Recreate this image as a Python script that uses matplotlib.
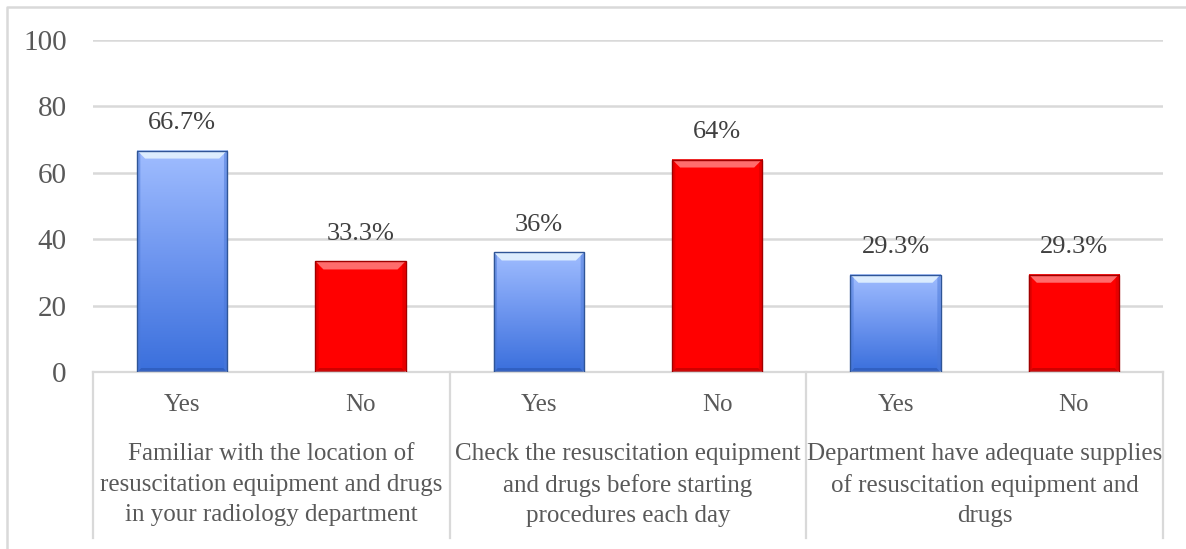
import matplotlib
matplotlib.use("Agg")
import matplotlib.pyplot as plt
import numpy as np
from matplotlib.colors import LinearSegmentedColormap
from matplotlib.patches import Polygon
from matplotlib.lines import Line2D

# Survey responses (% of respondents)
groups = [
    "Familiar with the location of\nresuscitation equipment and drugs\nin your radiology department",
    "Check the resuscitation equipment\nand drugs before starting\nprocedures each day",
    "Department have adequate supplies\nof resuscitation equipment and\ndrugs",
]
answers = ["Yes", "No", "Yes", "No", "Yes", "No"]
values = [66.7, 33.3, 36, 64, 29.3, 29.3]
value_labels = ["66.7%", "33.3%", "36%", "64%", "29.3%", "29.3%"]
yticks = [0, 20, 40, 60, 80, 100]

plt.rcParams["font.family"] = ["Liberation Serif", "DejaVu Serif"]

W, H, DPI = 1186, 549, 100
fig = plt.figure(figsize=(W / DPI, H / DPI), dpi=DPI)
ax = fig.add_axes([93 / W, 1 - 372 / H, (1163 - 93) / W, (372 - 40) / H])

grid_c = "#d9d9d9"
text_c = "#595959"

x = np.arange(len(values))
ax.set_xlim(-0.5, len(values) - 0.5)
ax.set_ylim(0, 100)
ax.set_yticks(yticks)
ax.set_yticklabels([str(t) for t in yticks], fontsize=21, color=text_c)
ax.tick_params(axis="y", length=0, pad=19)
ax.set_xticks([])
for s in ["top", "right", "left"]:
    ax.spines[s].set_visible(False)
ax.spines["bottom"].set_color(grid_c)
ax.spines["bottom"].set_linewidth(1.6)
ax.set_axisbelow(True)
ax.yaxis.grid(True, color=grid_c, linewidth=1.8)

bar_w = 0.505
bars = ax.bar(x, values, width=bar_w, color="none", edgecolor="none", zorder=2)

blue_cmap = LinearSegmentedColormap.from_list("blue", ["#3a6fdc", "#6d95ef", "#a0bdff"])
red_cmap = LinearSegmentedColormap.from_list("red", ["#ff0000", "#ff0000"])

fig.canvas.draw()
inv = ax.transData.inverted()
p0 = inv.transform((0, 0))
p1 = inv.transform((1, 1))
dx_px = p1[0] - p0[0]
dy_px = p1[1] - p0[1]

grad = np.linspace(0, 1, 256).reshape(-1, 1)
band = np.linspace(0, 1, 64).reshape(-1, 1)
for i, (b, ans) in enumerate(zip(bars, answers)):
    x0, y0 = b.get_x(), b.get_y()
    x1, y1 = x0 + b.get_width(), y0 + b.get_height()
    is_yes = ans == "Yes"
    cmap = blue_cmap if is_yes else red_cmap
    ax.imshow(grad, extent=[x0, x1, y0, y1], origin="lower", aspect="auto",
              cmap=cmap, zorder=2, interpolation="bicubic")
    bx, by = 8 * dx_px, 8 * dy_px
    if is_yes:
        top_c, bot_c, side_c, edge_c = "#e8f6ff", "#2a55b0", "#4a78d8", "#2f5597"
    else:
        top_c, bot_c, side_c, edge_c = "#ff8080", "#b00000", "#d00000", "#a00000"
    # bevel faces
    top = Polygon([(x0, y1), (x1, y1), (x1 - bx, y1 - by), (x0 + bx, y1 - by)],
                  closed=True, fc=top_c, ec="none", alpha=0.85, zorder=3)
    ax.add_patch(top)
    bot = Polygon([(x0, y0), (x1, y0), (x1 - bx * 0.5, y0 + by * 0.5), (x0 + bx * 0.5, y0 + by * 0.5)],
                  closed=True, fc=bot_c, ec="none", alpha=0.6, zorder=3)
    ax.add_patch(bot)
    for xa, xb in [(x0, x0 + bx * 0.4), (x1, x1 - bx * 0.4)]:
        ax.add_patch(Polygon([(xa, y0), (xa, y1), (xb, y1 - by * 0.4), (xb, y0 + by * 0.4)],
                             closed=True, fc=side_c, ec="none", alpha=0.5, zorder=3))
    ax.add_patch(plt.Rectangle((x0, y0), x1 - x0, y1 - y0, fill=False,
                               ec=edge_c, lw=1.0, zorder=4))
    ax.annotate(value_labels[i], (b.get_x() + b.get_width() / 2, y1),
                xytext=(0, 20), textcoords="offset points", ha="center", va="center",
                fontsize=19, color="#404040", zorder=5)

ax.set_xlim(-0.5, len(values) - 0.5)
ax.set_ylim(0, 100)

# two-level category axis
trans = ax.get_xaxis_transform()
ax_h = 372 - 40
for i, ans in enumerate(answers):
    ax.text(i, -(405 - 372) / ax_h, ans, transform=trans, ha="center", va="center",
            fontsize=18, color=text_c, clip_on=False)
for g, label in enumerate(groups):
    ax.text(2 * g + 0.5, -(485 - 372) / ax_h, label, transform=trans, ha="center",
            va="center", fontsize=18, color=text_c, linespacing=1.5, clip_on=False)
for sx in [-0.5, 1.5, 3.5, 5.5]:
    ax.add_line(Line2D([sx, sx], [0, -(538 - 372) / ax_h], transform=trans,
                       color=grid_c, lw=1.6, clip_on=False))

# outer chart-area frame
fig.add_artist(Line2D([7 / W, 7 / W, 1.0], [0.0, 1 - 7 / H, 1 - 7 / H],
                      transform=fig.transFigure, color=grid_c, lw=1.8))

fig.savefig("out.png", dpi=DPI)
